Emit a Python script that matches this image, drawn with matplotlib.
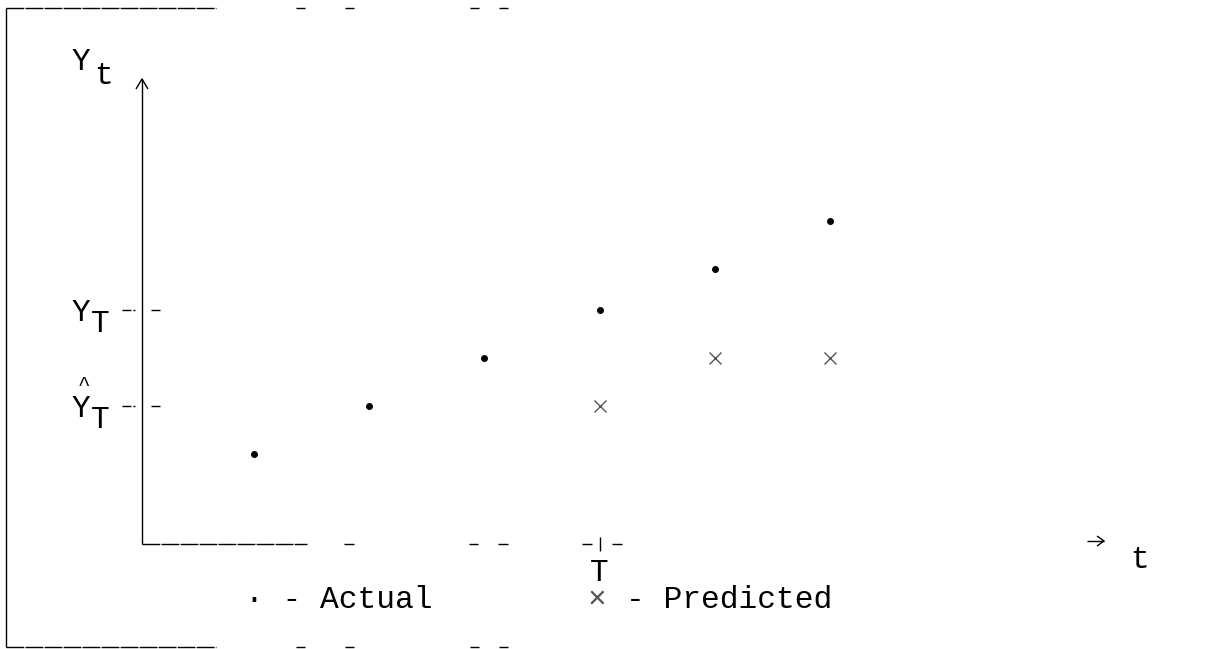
import matplotlib
matplotlib.use("Agg")
import matplotlib.pyplot as plt

# ---- data ----
t_actual = [1, 2, 3, 4, 5, 6]
y_actual = [2.0, 3.0, 4.0, 5.0, 5.85, 6.85]
t_pred = [4, 5, 6]
y_pred = [3.0, 4.0, 4.0]
T_index = 4
y_T = 5.0        # actual value at T
yhat_T = 3.0     # predicted value at T
legend_labels = ["Actual", "Predicted"]

W, H, DPI = 1221, 649, 100
fig = plt.figure(figsize=(W / DPI, H / DPI), dpi=DPI)
FONT = "Liberation Mono"
FS = 22.5

# data axes covering whole figure (scale: 115.2 px per t, 48 px per unit)
ax = fig.add_axes([0, 0, 1, 1])
px_per_t, x0_px = 115.2, 138.8
px_per_v, y0_px = 48.0, 550.0
ax.set_xlim(-x0_px / px_per_t, (W - x0_px) / px_per_t)
ax.set_ylim((y0_px - H) / px_per_v, y0_px / px_per_v)
ax.axis("off")

ax.plot(t_actual, y_actual, linestyle="none", marker="o", ms=4.0,
        color="black", zorder=3)
ax.plot(t_pred, y_pred, linestyle="none", marker="x", ms=8.5, mew=1.0,
        color="#555555", zorder=3)

# pixel-space overlay for text-art decorations
pax = fig.add_axes([0, 0, 1, 1])
pax.set_xlim(0, W)
pax.set_ylim(H, 0)
pax.axis("off")
pax.patch.set_alpha(0)

lw = 1.0
k = dict(color="black", lw=lw, solid_capstyle="butt")
under = dict(color="black", lw=lw, linestyle=(0, (12.8, 0.9)),
             dash_capstyle="butt")

# border (left + top + bottom dashed runs)
pax.plot([6, 6], [8, 647], **k)
for yy in (8, 647):
    pax.plot([6, 216], [yy, yy], **under)
    for a, b in [(296, 305), (345, 354), (470, 479), (499, 508)]:
        pax.plot([a, b], [yy, yy], **k)

# y axis with arrow
ax_y_px, ax_x_px = 142, 544
pax.plot([ax_y_px, ax_y_px], [ax_x_px, 79], **k)
pax.plot([136, 142, 148], [89, 79, 89], **k)

# x axis pieces
pax.plot([ax_y_px, 307], [ax_x_px, ax_x_px], **under)
for a, b in [(344, 354), (469, 478), (498, 508), (582, 592), (612, 622)]:
    pax.plot([a, b], [ax_x_px, ax_x_px], **k)
tx = x0_px + px_per_t * T_index
pax.plot([tx, tx], [537, 551], **k)

# right arrow for t
pax.plot([1087, 1104], [541, 541], **k)
pax.plot([1097, 1104, 1097], [536, 541, 546], **k)

# y-axis tick marks for Y_T and Yhat_T
for v in (y_T, yhat_T):
    yy = y0_px - px_per_v * v
    pax.plot([122, 131], [yy, yy], **k)
    pax.plot([132.5, 135], [yy, yy], **k)
    pax.plot([151, 160], [yy, yy], **k)

tk = dict(family=FONT, fontsize=FS, color="black", va="center", ha="left")
# Y_t label
pax.text(72, 62, "Y", **tk)
pax.text(94, 76, "t", **tk)
# Y_T label
yy = y0_px - px_per_v * y_T
pax.text(72, yy + 3, "Y", **tk)
pax.text(91, yy + 14, "T", **tk)
# Yhat_T label
yy = y0_px - px_per_v * yhat_T
pax.text(84, yy - 12, "^", family=FONT, fontsize=15, color="black",
         va="bottom", ha="center")
pax.text(72, yy + 3, "Y", **tk)
pax.text(91, yy + 14, "T", **tk)

# T under axis
pax.text(tx, 573, "T", family=FONT, fontsize=FS, ha="center", va="center")
# t at arrow
pax.text(1130, 560, "t", **tk)

# legend
pax.text(245, 600, "\u00b7 - " + legend_labels[0], **tk)
pax.text(588, 600, "\u00d7", family=FONT, fontsize=FS, color="#555555",
         va="center", ha="left")
pax.text(626, 600, "- " + legend_labels[1], **tk)

fig.savefig("out.png", dpi=DPI, facecolor="white")
